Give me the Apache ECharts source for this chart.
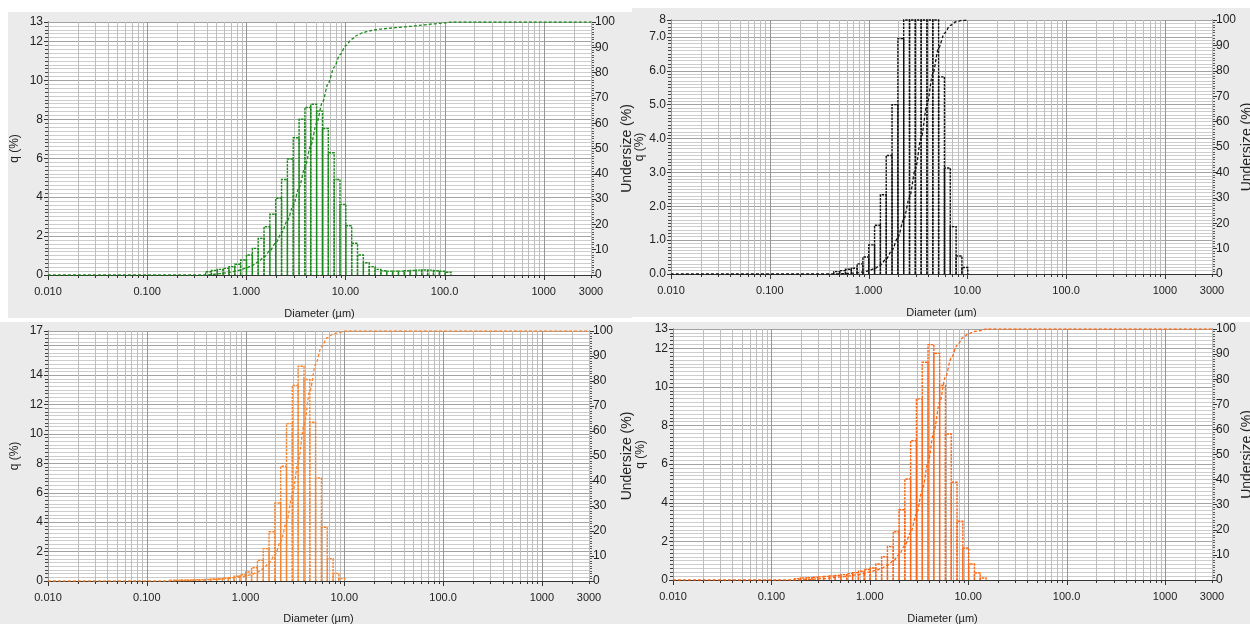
<!DOCTYPE html>
<html>
<head>
<meta charset="utf-8">
<title>Particle size distribution</title>
<script src="https://cdn.jsdelivr.net/npm/echarts@6/dist/echarts.min.js"></script>
<style>
  html, body { margin: 0; padding: 0; background: #fff; }
  #main { width: 1250px; height: 624px; }
</style>
</head>
<body>
<div id="main"></div>
<script>
// channel edges of the analyser (um)
var binEdges = [0.172, 0.197, 0.226, 0.259, 0.296, 0.339, 0.389, 0.445, 0.510, 0.584, 0.669, 0.766, 0.877,
  1.005, 1.151, 1.318, 1.510, 1.729, 1.981, 2.269, 2.599, 2.976, 3.409, 3.905, 4.472, 5.122, 5.867, 6.720,
  7.697, 8.816, 10.097, 11.565, 13.246, 15.172, 17.377, 19.904, 22.797, 26.111, 29.907, 34.255, 39.234,
  44.938, 51.471, 58.953, 67.523, 77.339, 88.583, 101.46, 116.21];

var xTickValues = [0.01, 0.1, 1, 10, 100, 1000, 3000];
var xTickLabels = ['0.010', '0.100', '1.000', '10.00', '100.0', '1000', '3000'];

// panel 1 (green) - q (%) per channel, first channel index, undersize (%)
var q1Start = 6;
var q1 = [0.17, 0.24, 0.29, 0.34, 0.43, 0.55, 0.77, 1.03, 1.37, 1.88, 2.48, 3.12, 3.94, 4.91, 5.96, 7.05, 8.0,
  8.61, 8.77, 8.42, 7.53, 6.28, 4.91, 3.63, 2.53, 1.63, 1.03, 0.63, 0.43, 0.29, 0.22, 0.20, 0.20, 0.20,
  0.22, 0.24, 0.25, 0.26, 0.25, 0.22, 0.19, 0.14];
var cum1 = [0.17, 0.41, 0.70, 1.04, 1.47, 2.02, 2.79, 3.82, 5.19, 7.07, 9.55, 12.67, 16.61, 21.52, 27.48,
  34.53, 42.53, 51.14, 59.91, 68.33, 75.86, 82.14, 87.05, 90.68, 93.21, 94.84, 95.87, 96.50, 96.93, 97.22,
  97.44, 97.64, 97.84, 98.04, 98.26, 98.50, 98.75, 99.01, 99.26, 99.48, 99.67, 100];

// panel 2 (black)
var q2Start = 7;
var q2 = [0.07, 0.10, 0.14, 0.17, 0.30, 0.50, 0.86, 1.44, 2.34, 3.50, 5.00, 6.95, 8.8, 11.0, 12.5, 12.9,
  12.2, 10.2, 5.82, 3.13, 1.40, 0.53, 0.19];
var cum2 = [0.07, 0.17, 0.31, 0.48, 0.78, 1.28, 2.14, 3.58, 5.92, 9.42, 14.42, 21.37, 30.17, 41.17, 53.67,
  66.57, 78.77, 88.97, 94.79, 97.92, 99.32, 99.85, 100];

// panel 3 (light orange)
var q3Start = 0;
var q3 = [0.05, 0.05, 0.07, 0.07, 0.09, 0.09, 0.11, 0.14, 0.16, 0.20, 0.23, 0.32, 0.43, 0.61, 0.90, 1.40,
  2.20, 3.35, 5.30, 7.80, 10.7, 13.3, 14.6, 13.7, 10.8, 7.0, 3.65, 1.52, 0.52, 0.16];
var cum3 = [0.05, 0.10, 0.17, 0.24, 0.33, 0.42, 0.53, 0.67, 0.83, 1.03, 1.26, 1.58, 2.01, 2.62, 3.52, 4.92,
  7.12, 10.47, 15.77, 23.57, 34.27, 47.57, 62.17, 75.87, 86.67, 93.67, 97.32, 98.84, 99.36, 100];

// panel 4 (orange)
var q4Start = 0;
var q4 = [0.07, 0.10, 0.12, 0.14, 0.16, 0.19, 0.21, 0.24, 0.28, 0.33, 0.38, 0.45, 0.54, 0.62, 0.83, 1.21,
  1.73, 2.50, 3.64, 5.23, 7.22, 9.38, 11.28, 12.19, 11.74, 10.07, 7.56, 5.06, 3.04, 1.66, 0.83, 0.36, 0.10];
var cum4 = [0.07, 0.17, 0.29, 0.43, 0.59, 0.78, 0.99, 1.23, 1.51, 1.84, 2.22, 2.67, 3.21, 3.83, 4.66, 5.87,
  7.60, 10.10, 13.74, 18.97, 26.19, 35.57, 46.85, 59.04, 70.78, 80.85, 88.41, 93.47, 96.51, 98.17, 99.00,
  99.36, 100];

var panels = [
  { left: 48, top: 22, width: 543, height: 253, yMax: 13, yInt: 2, minor: 10, color: '#1a8a1a',
    q: q1, start: q1Start, cum: cum1, tail: true, nameGap: 33, qGap: 27, uGap: 29 },
  { left: 671, top: 20, width: 541, height: 254, yMax: 7.5, yInt: 1, minor: 10, color: '#111111',
    q: q2, start: q2Start, cum: cum2, tail: false, nameGap: 33, qGap: 25, uGap: 28 },
  { left: 48, top: 331, width: 541, height: 250, yMax: 17, yInt: 2, minor: 8, color: '#f7852e',
    q: q3, start: q3Start, cum: cum3, tail: true, nameGap: 32, qGap: 27, uGap: 31 },
  { left: 673, top: 329, width: 539, height: 251, yMax: 13, yInt: 2, minor: 10, color: '#ff6510',
    q: q4, start: q4Start, cum: cum4, tail: true, nameGap: 33, qGap: 26, uGap: 28 }
];

// vertical log grid lines 1..9 x decade
var gridX = [];
[0.01, 0.1, 1, 10, 100, 1000].forEach(function (d) {
  for (var m = 1; m <= 9; m++) {
    if (d * m <= 3000.001) gridX.push([d * m, m === 1 ? 1 : 0]);
  }
});

function xLabel(v) {
  for (var i = 0; i < xTickValues.length; i++) {
    if (Math.abs(Math.log10(v) - Math.log10(xTickValues[i])) < 0.01) return xTickLabels[i];
  }
  return '';
}

function yLabelFor(idx) {
  return function (v) {
    if (idx === 1) return v >= 7.5 ? '8' : v.toFixed(1);
    if (idx === 2 && v === 16) return '';
    return String(v);
  };
}

function gridRender(params, api) {
  var p = api.coord([api.value(0), 0]);
  var cs = params.coordSys;
  var major = api.value(1) === 1;
  var x = Math.round(p[0]) + 0.5;
  var b = cs.y + cs.height;
  return {
    type: 'group',
    children: [
      { type: 'line', shape: { x1: x, y1: cs.y, x2: x, y2: b },
        style: { stroke: major ? '#969696' : '#bdbdbd', lineWidth: 1 } },
      { type: 'line', shape: { x1: x, y1: b, x2: x, y2: b + (major ? 5 : 3) },
        style: { stroke: '#333', lineWidth: 1 } }
    ]
  };
}

function barRender(params, api) {
  var pBL = api.coord([api.value(0), 0]);
  var pTR = api.coord([api.value(1), api.value(2)]);
  var cs = params.coordSys;
  var top = Math.max(pTR[1], cs.y);
  return {
    type: 'polyline',
    shape: { points: [[pBL[0], pBL[1]], [pBL[0], top], [pTR[0], top], [pTR[0], pBL[1]]] },
    style: { stroke: api.visual('color'), fill: null, lineWidth: 1.4, lineDash: [2.5, 1] }
  };
}

var grids = [], xAxes = [], yAxes = [], series = [];
var font = 'Liberation Sans';

panels.forEach(function (p, i) {
  grids.push({ left: p.left, top: p.top, width: p.width, height: p.height,
    outerBoundsMode: 'none', containLabel: false,
    show: true, backgroundColor: '#ffffff', borderWidth: 0 });

  xAxes.push({
    type: 'log', logBase: 10, gridIndex: i, min: 0.01, max: 3000,
    name: 'Diameter (\u00b5m)', nameLocation: 'middle', nameGap: p.nameGap,
    nameTextStyle: { color: '#222', fontSize: 11, fontFamily: font },
    axisLine: { show: true, lineStyle: { color: '#333', width: 1 } },
    axisTick: { show: false },
    splitLine: { show: false },
    axisLabel: { formatter: xLabel, color: '#222', fontSize: 11, fontFamily: font, margin: 11,
      showMinLabel: true, showMaxLabel: true }
  });

  yAxes.push({
    type: 'value', gridIndex: i, position: 'left', min: 0, max: p.yMax, interval: p.yInt,
    name: 'q (%)', nameLocation: 'middle', nameGap: p.qGap, nameRotate: 90,
    nameTextStyle: { color: '#222', fontSize: 12, fontFamily: font },
    axisLine: { show: true, lineStyle: { color: '#333', width: 1 } },
    axisTick: { show: true, length: 4, lineStyle: { color: '#333' } },
    minorTick: { show: true, splitNumber: p.minor, length: 3, lineStyle: { color: '#444' } },
    splitLine: { show: true, lineStyle: { color: '#a2a2a2', width: 1 } },
    minorSplitLine: { show: true, lineStyle: { color: '#cdcdcd', width: 1 } },
    axisLabel: { formatter: yLabelFor(i), color: '#222', fontSize: 12, fontFamily: font, margin: 5,
      showMinLabel: true, showMaxLabel: true }
  });

  yAxes.push({
    type: 'value', gridIndex: i, position: 'right', min: 0, max: 100, interval: 10,
    name: 'Undersize (%)', nameLocation: 'middle', nameGap: p.uGap, nameRotate: 90,
    nameTextStyle: { color: '#222', fontSize: 14, fontFamily: font },
    axisLine: { show: true, lineStyle: { color: '#333', width: 1 } },
    axisTick: { show: true, length: 5, lineStyle: { color: '#333' } },
    minorTick: { show: true, splitNumber: 10, length: 3, lineStyle: { color: '#555' } },
    splitLine: { show: false },
    minorSplitLine: { show: false },
    axisLabel: { color: '#222', fontSize: 12, fontFamily: font, margin: 4,
      showMinLabel: true, showMaxLabel: true }
  });

  series.push({
    type: 'custom', name: 'grid' + i, xAxisIndex: i, yAxisIndex: 2 * i,
    renderItem: gridRender, data: gridX, silent: true, clip: false, z: 1, zlevel: 0,
    encode: { x: 0, y: -1 }
  });

  var bars = [];
  for (var k = 0; k < p.q.length; k++) {
    bars.push([binEdges[p.start + k], binEdges[p.start + k + 1], p.q[k]]);
  }
  series.push({
    type: 'custom', name: 'q' + i, xAxisIndex: i, yAxisIndex: 2 * i,
    renderItem: barRender, data: bars, silent: true, z: 5, zlevel: 0,
    itemStyle: { color: p.color },
    encode: { x: [0, 1], y: 2 }
  });

  var curve = [[0.01, 0], [binEdges[p.start], 0]];
  for (var c = 0; c < p.cum.length; c++) {
    curve.push([binEdges[p.start + c + 1], p.cum[c]]);
  }
  if (p.tail) curve.push([3000, 100]);
  series.push({
    type: 'line', name: 'cum' + i, xAxisIndex: i, yAxisIndex: 2 * i + 1,
    data: curve, showSymbol: false, smooth: 0.3, smoothMonotone: 'x', silent: true, z: 6,
    lineStyle: { color: p.color, width: 1.3, type: [3, 2] }
  });
});

var chart = echarts.init(document.getElementById('main'), null, { renderer: 'canvas' });
chart.setOption({
  animation: false,
  backgroundColor: '#ffffff',
  graphic: [
    { type: 'rect', shape: { x: 8, y: 12, width: 624, height: 306 }, style: { fill: '#ebebeb' }, z: -10 },
    { type: 'rect', shape: { x: 632, y: 8, width: 618, height: 310 }, style: { fill: '#ebebeb' }, z: -10 },
    { type: 'rect', shape: { x: 0, y: 322, width: 632, height: 302 }, style: { fill: '#ebebeb' }, z: -10 },
    { type: 'rect', shape: { x: 632, y: 322, width: 618, height: 302 }, style: { fill: '#ebebeb' }, z: -10 },
    { type: 'rect', shape: { x: 632, y: 317, width: 618, height: 5 }, style: { fill: '#ffffff' }, z: 100 }
  ],
  grid: grids,
  xAxis: xAxes,
  yAxis: yAxes,
  series: series
});
</script>
</body>
</html>
